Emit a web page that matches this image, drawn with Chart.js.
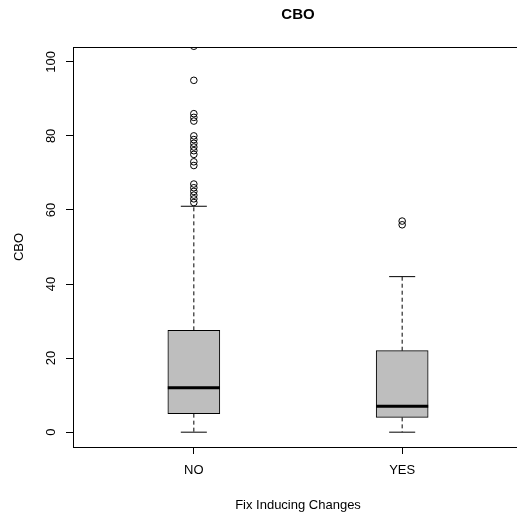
<!DOCTYPE html>
<html>
<head>
<meta charset="utf-8">
<script src="https://cdn.jsdelivr.net/npm/chart.js@4/dist/chart.umd.min.js"></script>
<style>
html, body { margin: 0; padding: 0; background: #fff; overflow: hidden; }
#wrap { width: 517px; height: 521px; overflow: hidden; }
canvas { display: block; }
</style>
</head>
<body>
<div id="wrap"><canvas id="c" width="596" height="521"></canvas></div>
<script>
// ---- data ----
const categories = ['NO', 'YES'];
const whiskerLow = [0, 0];
const q1 = [5, 4];
const median = [12, 7];
const q3 = [27.5, 22];
const whiskerHigh = [61, 42];
const outliersNO = [104.2, 95, 86, 85, 84, 80, 79, 78, 77, 76, 75, 73, 72, 67, 66, 65, 64, 63, 62];
const outliersYES = [57, 56];
const yTicks = [0, 20, 40, 60, 80, 100];

// ---- build datasets ----
const outlierLists = [outliersNO, outliersYES];
const pos = categories.map((c, i) => i + 1);
const BOX_HALF = 0.125, CAP_HALF = 0.0625;

const boxData = pos.map((x, i) => ({ x: x, y: [q1[i], q3[i]] }));
const whiskerData = [];
const capData = [];
const medianData = [];
const outlierData = [];
pos.forEach((x, i) => {
  whiskerData.push({ x: x, y: q3[i] }, { x: x, y: whiskerHigh[i] }, { x: x, y: null });
  whiskerData.push({ x: x, y: q1[i] }, { x: x, y: whiskerLow[i] }, { x: x, y: null });
  capData.push({ x: x - CAP_HALF, y: whiskerHigh[i] }, { x: x + CAP_HALF, y: whiskerHigh[i] }, { x: x, y: null });
  capData.push({ x: x - CAP_HALF, y: whiskerLow[i] }, { x: x + CAP_HALF, y: whiskerLow[i] }, { x: x, y: null });
  medianData.push({ x: x - BOX_HALF, y: median[i] }, { x: x + BOX_HALF, y: median[i] }, { x: x, y: null });
  outlierLists[i].forEach(v => outlierData.push({ x: x, y: v }));
});

Chart.defaults.font.family = '"Liberation Sans", Arial, Helvetica, sans-serif';
Chart.defaults.color = '#000';

const framePlugin = {
  id: 'frame',
  afterDatasetsDraw(chart) {
    const { ctx, chartArea: a } = chart;
    ctx.save();
    ctx.strokeStyle = '#000';
    ctx.lineWidth = 1;
    ctx.strokeRect(Math.round(a.left) + 0.5, Math.round(a.top) + 0.5, Math.round(a.right - a.left), Math.round(a.bottom - a.top));
    ctx.restore();
  }
};

const yLabelPlugin = {
  id: 'ylabels',
  afterDraw(chart) {
    const { ctx } = chart;
    const ys = chart.scales.y;
    ctx.save();
    ctx.font = '13px "Liberation Sans", Arial, sans-serif';
    ctx.fillStyle = '#000';
    ctx.textAlign = 'center';
    ctx.textBaseline = 'middle';
    yTicks.forEach(v => {
      const py = ys.getPixelForValue(v);
      ctx.save();
      ctx.translate(ys.right - 22, py);
      ctx.rotate(-Math.PI / 2);
      ctx.fillText(String(v), 0, 0);
      ctx.restore();
    });
    ctx.restore();
  }
};

new Chart(document.getElementById('c'), {
  type: 'scatter',
  data: {
    datasets: [
      {
        type: 'bar', data: boxData, order: 3, grouped: false,
        barThickness: 52, backgroundColor: '#bebebe', borderColor: '#000',
        borderWidth: 1, borderSkipped: false
      },
      {
        type: 'line', data: whiskerData, order: 2, borderColor: '#000', borderWidth: 1,
        borderDash: [4, 3], pointRadius: 0, spanGaps: false, fill: false
      },
      {
        type: 'line', data: capData, order: 2, borderColor: '#000', borderWidth: 1,
        pointRadius: 0, spanGaps: false, fill: false
      },
      {
        type: 'line', data: medianData, order: 1, borderColor: '#000', borderWidth: 3,
        pointRadius: 0, spanGaps: false, fill: false, borderCapStyle: 'butt'
      },
      {
        type: 'scatter', data: outlierData, order: 0, clip: 0,
        pointStyle: 'circle', pointRadius: 3.3, pointBorderWidth: 1,
        pointBorderColor: '#000', pointBackgroundColor: 'rgba(0,0,0,0)', showLine: false
      }
    ]
  },
  options: {
    responsive: false,
    animation: false,
    events: [],
    layout: { padding: 0 },
    plugins: {
      legend: { display: false },
      tooltip: { enabled: false },
      title: {
        display: true, text: 'CBO', color: '#000',
        font: { size: 15, weight: 'bold', lineHeight: 1.2 },
        padding: { top: 6, bottom: 23 }
      }
    },
    scales: {
      x: {
        type: 'linear', min: 0.42, max: 2.58, offset: false,
        afterBuildTicks: s => { s.ticks = pos.map(v => ({ value: v })); },
        afterFit: s => { s.height = 74; },
        ticks: {
          callback: v => categories[v - 1], autoSkip: false, maxRotation: 0,
          font: { size: 13 }, color: '#000', padding: 9
        },
        grid: { offset: false, drawOnChartArea: false, drawTicks: true, tickLength: 7, color: '#000' },
        border: { display: true, color: '#000' },
        title: {
          display: true, text: 'Fix Inducing Changes', color: '#000',
          font: { size: 13, lineHeight: 1.2 }, padding: { top: 0, bottom: 8 }
        }
      },
      y: {
        type: 'linear', min: -4, max: 104,
        afterBuildTicks: s => { s.ticks = yTicks.map(v => ({ value: v })); },
        afterFit: s => { s.width = 73; },
        ticks: { display: false },
        grid: { drawOnChartArea: false, drawTicks: true, tickLength: 7, color: '#000' },
        border: { display: true, color: '#000' },
        title: {
          display: true, text: 'CBO', color: '#000',
          font: { size: 13, lineHeight: 1.2 }, padding: { top: 12, bottom: 0 }
        }
      },
      yRight: {
        type: 'linear', position: 'right', min: -4, max: 104,
        afterFit: s => { s.width = 73; },
        ticks: { display: false },
        grid: { display: false },
        border: { display: false }
      }
    }
  },
  plugins: [framePlugin, yLabelPlugin]
});
</script>
</body>
</html>
